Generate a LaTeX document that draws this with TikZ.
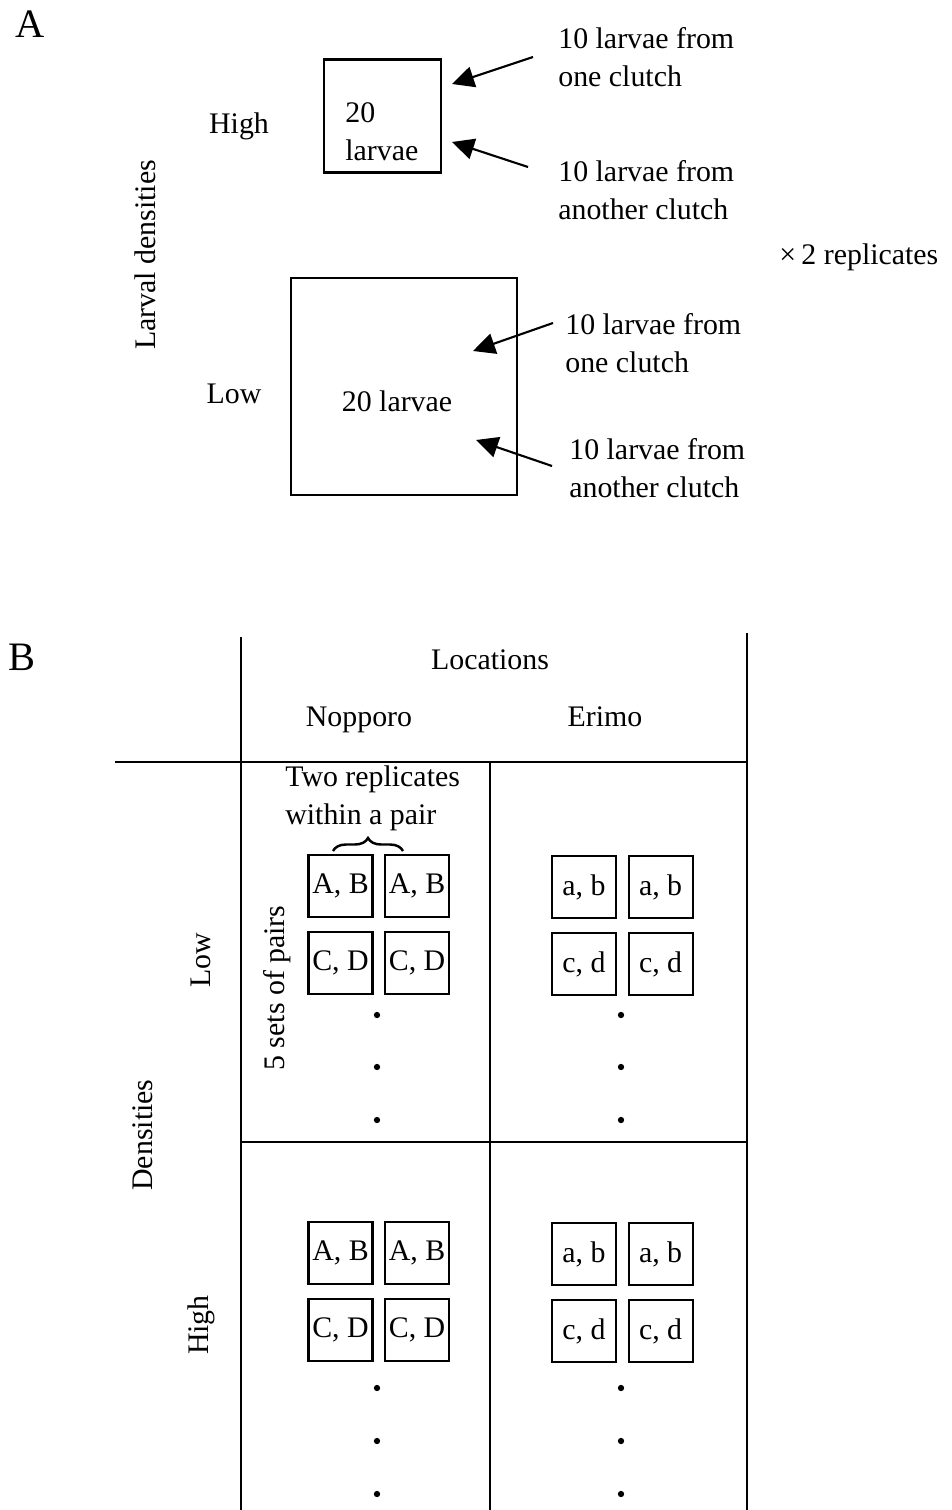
\documentclass[tikz,border=0pt]{standalone}
\usepackage{fontspec}
\setmainfont{Liberation Serif}
\usetikzlibrary{arrows.meta, positioning, decorations.pathreplacing}

\begin{document}
\begin{tikzpicture}[
    x=0.02cm, y=-0.02cm,
    every node/.style={font=\fontsize{17}{21.5}\selectfont},
    frame/.style={line width=1.2pt},
    cell/.style={draw, line width=1.2pt, minimum width=1.28cm, minimum height=1.24cm, inner sep=0pt},
    arr/.style={-{Triangle[length=0.44cm, width=0.42cm]}, line width=1.2pt},
    txt/.style={align=left, anchor=west, inner sep=0pt},
    panel/.style={font=\fontsize{23}{26}\selectfont}
]
\useasboundingbox (0,0) rectangle (951,1510);

% ---------- Panel A ----------
\node[panel] (labA) at (30,24) {A};
\node[rotate=90] (larvDens) at (145,255) {Larval densities};
\node (aHigh) at (239,126) {High};
\node (aLow) at (234,394) {Low};

\node[draw, line width=1.2pt, minimum width=2.34cm, minimum height=2.26cm] (hiBox) at (382.5,116) {};
\node[txt] (hiNum) at (345,132) {20\\larvae};
\node[draw, line width=1.2pt, minimum width=4.52cm, minimum height=4.34cm] (loBox) at (404,386.5) {};
\node (loNum) at (397,401) {20 larvae};

\node[txt] (hiTop) at (558,57) {10 larvae from\\one clutch};
\node[txt] (hiBot) at (558,190) {10 larvae from\\another clutch};
\node[txt] (loTop) at (565,343) {10 larvae from\\one clutch};
\node[txt] (loBot) at (569,468) {10 larvae from\\another clutch};
\node[anchor=west, inner sep=0pt] (reps) at (779,257) {×\kern3pt2 replicates};

% arrow ends
\coordinate (hiTopTail) at (533,57);
\coordinate (hiTopTip) at (452,84);
\coordinate (hiBotTail) at (528,167);
\coordinate (hiBotTip) at (452,142);
\coordinate (loTopTail) at (553,323);
\coordinate (loTopTip) at (473,351);
\coordinate (loBotTail) at (552,466);
\coordinate (loBotTip) at (476,440);

\draw[arr] (hiTopTail) -- (hiTopTip);
\draw[arr] (hiBotTail) -- (hiBotTip);
\draw[arr] (loTopTail) -- (loTopTip);
\draw[arr] (loBotTail) -- (loBotTip);

% ---------- Panel B ----------
\node[panel] (labB) at (22,657) {B};

% table rules
\draw[frame] (241,637) -- (241,1510);
\draw[frame] (747,633) -- (747,1510);
\draw[frame] (490,762) -- (490,1510);
\draw[frame] (115,762) -- (747,762);
\draw[frame] (241,1142) -- (747,1142);

\node (locs) at (490,660) {Locations};
\node[anchor=base] (nop) at (359,726) {Nopporo};
\node[anchor=base] (eri) at (605,726) {Erimo};

\node[rotate=90] (dens) at (143,1135) {Densities};
\node[rotate=90] (bLow) at (201,960) {Low};
\node[rotate=90] (bHigh) at (201,1325) {High};

\node[txt] (twoRep) at (285,798) {Two replicates\\within a pair};
\node[rotate=90] (fiveSets) at (277,988) {5 sets of pairs};

% pairs of replicates
\foreach \dy/\dn in {0/lo, 367/hi} {
    \node[cell] (\dn NA) at (340.5,{886+\dy}) {A, B};
    \node[cell, right=0.21cm of \dn NA] (\dn NB) {A, B};
    \node[cell, below=0.26cm of \dn NA] (\dn NC) {C, D};
    \node[cell, right=0.21cm of \dn NC] (\dn ND) {C, D};
    \node[cell] (\dn EA) at (584,{887+\dy}) {a, b};
    \node[cell, right=0.21cm of \dn EA] (\dn EB) {a, b};
    \node[cell, below=0.26cm of \dn EA] (\dn EC) {c, d};
    \node[cell, right=0.21cm of \dn EC] (\dn ED) {c, d};
}

% dots for the remaining pairs
\foreach \yy in {1015,1067,1120,1388,1441,1494} {
    \fill (377,\yy) circle (1.8pt);
    \fill (621,\yy) circle (1.8pt);
}

% brace over one pair
\draw[line width=1.4pt, decorate, decoration={brace, amplitude=0.26cm}]
    (333,851) -- (403,851);
\end{tikzpicture}
\end{document}
